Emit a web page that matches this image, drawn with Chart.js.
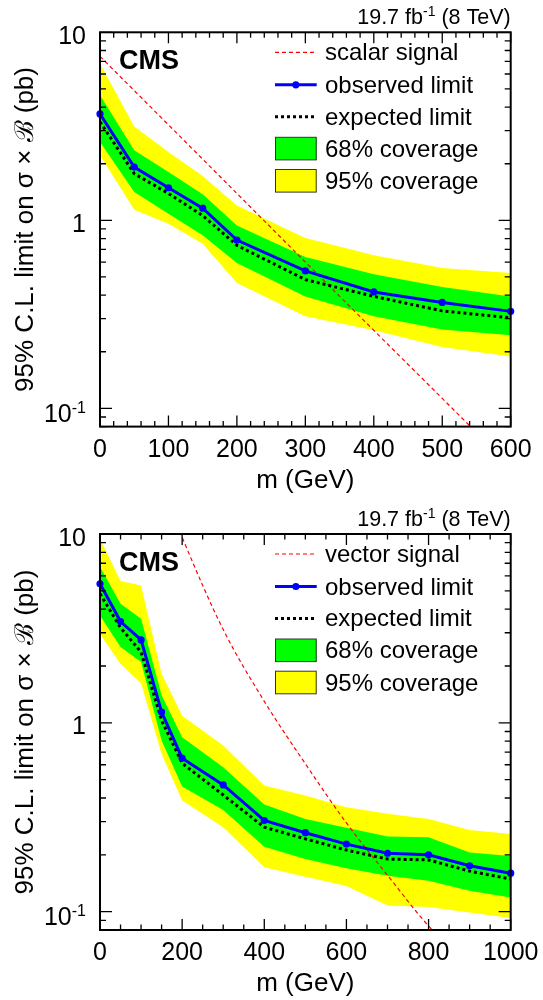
<!DOCTYPE html>
<html>
<head>
<meta charset="utf-8">
<script src="https://cdn.jsdelivr.net/npm/chart.js@4.4.1/dist/chart.umd.min.js"></script>
<style>
  html, body { margin: 0; padding: 0; background: #fff; }
  canvas { display: block; }
</style>
</head>
<body>
<canvas id="scalarChart" width="543" height="500"></canvas>
<canvas id="vectorChart" width="543" height="500"></canvas>
<script>
// scalar mediator (top panel)
const scalarMass = [0, 50, 100, 150, 200, 300, 400, 500, 600];
const scalarObserved = [3.68, 1.92, 1.49, 1.16, 0.786, 0.538, 0.416, 0.366, 0.328];
const scalarExpected = [3.34, 1.77, 1.39, 1.06, 0.736, 0.484, 0.394, 0.330, 0.303];
const scalar68Up = [4.62, 2.36, 1.81, 1.375, 0.94, 0.638, 0.516, 0.442, 0.394];
const scalar68Down = [2.61, 1.415, 1.085, 0.832, 0.593, 0.394, 0.309, 0.263, 0.245];
const scalar95Up = [6.81, 3.16, 2.31, 1.72, 1.20, 0.805, 0.652, 0.558, 0.525];
const scalar95Down = [2.22, 1.14, 0.96, 0.751, 0.464, 0.309, 0.260, 0.212, 0.189];
const scalarSignalMass = [0, 100, 200, 300, 400, 500, 600];
const scalarSignal = [7.45, 3.22, 1.39, 0.60, 0.26, 0.113, 0.049];
const scalarXTicks = [0, 100, 200, 300, 400, 500, 600];

// vector mediator (bottom panel)
const vectorMass = [0, 50, 100, 150, 200, 300, 400, 500, 600, 700, 800, 900, 1000];
const vectorObserved = [5.45, 3.44, 2.75, 1.14, 0.650, 0.469, 0.304, 0.262, 0.228, 0.204, 0.200, 0.175, 0.160];
const vectorExpected = [4.83, 3.19, 2.37, 1.03, 0.611, 0.415, 0.280, 0.243, 0.212, 0.190, 0.188, 0.164, 0.149];
const vector68Up = [6.70, 4.27, 3.56, 1.40, 0.839, 0.582, 0.369, 0.310, 0.278, 0.250, 0.248, 0.206, 0.197];
const vector68Down = [3.70, 2.52, 2.10, 0.806, 0.460, 0.346, 0.221, 0.190, 0.170, 0.155, 0.146, 0.129, 0.119];
const vector95Up = [9.4, 5.63, 5.34, 1.82, 1.09, 0.758, 0.466, 0.412, 0.357, 0.330, 0.310, 0.271, 0.258];
const vector95Down = [2.95, 2.05, 1.62, 0.685, 0.388, 0.280, 0.172, 0.153, 0.137, 0.108, 0.106, 0.099, 0.0925];
const vectorSignalMass = [150, 200, 300, 400, 500, 600, 700, 800, 900, 1000];
const vectorSignal = [18, 9.6, 3.12, 1.30, 0.607, 0.295, 0.156, 0.084, 0.051, 0.032];
const vectorXTicks = [0, 200, 400, 600, 800, 1000];

// shared log axis
const yTickValues = [0.1, 1, 10];
const yTickBase = ["10", "1", "10"];
const yTickExp = ["-1", "", ""];
const yMinorTicks = [0.08, 0.09, 0.2, 0.3, 0.4, 0.5, 0.6, 0.7, 0.8, 0.9, 2, 3, 4, 5, 6, 7, 8, 9];

const FONT = '"Liberation Sans", Arial, Helvetica, sans-serif';
const toPts = (xs, ys) => xs.map((x, i) => ({ x: x, y: ys[i] }));
const NONE = "rgba(0,0,0,0)";

const rootStyle = {
    id: "rootStyle",
    afterDraw(chart, args, o) {
        const { ctx, chartArea: a, scales } = chart;
        const xs = scales.x, ys = scales.y;
        const ds = chart.data.datasets;
        ctx.save();
        ctx.fillStyle = "#000";
        ctx.strokeStyle = "#000";

        // legend, ROOT style
        const rows = [20, 52.5, 84.4, 116.3, 148.5];
        const sx0 = 275, sx1 = 316.7;
        o.legend.forEach((e, i) => {
            const d = ds[e.ds];
            const ry = a.top + rows[i];
            ctx.save();
            if (e.kind === "box") {
                ctx.fillStyle = d.backgroundColor;
                ctx.fillRect(sx0, ry - 11.3, sx1 - sx0, 22.6);
                ctx.lineWidth = 1;
                ctx.strokeStyle = "#333";
                ctx.strokeRect(sx0 + 0.5, ry - 11.3, sx1 - sx0 - 1, 22.6);
            } else {
                ctx.strokeStyle = d.borderColor;
                ctx.lineWidth = d.borderWidth;
                ctx.setLineDash(d.borderDash || []);
                ctx.beginPath();
                ctx.moveTo(sx0, ry);
                ctx.lineTo(sx1, ry);
                ctx.stroke();
                if (d.pointRadius > 0) {
                    ctx.fillStyle = d.backgroundColor;
                    ctx.beginPath();
                    ctx.arc((sx0 + sx1) / 2, ry, d.pointRadius, 0, Math.PI * 2);
                    ctx.fill();
                }
            }
            ctx.restore();
            ctx.font = "24px " + FONT;
            ctx.textAlign = "left";
            ctx.textBaseline = "alphabetic";
            ctx.fillText(d.label, 325, ry + 8);
        });

        // frame
        ctx.lineWidth = 2;
        ctx.strokeRect(a.left, a.top, a.right - a.left, a.bottom - a.top);

        // ticks on all four sides
        ctx.lineWidth = 1.3;
        ctx.beginPath();
        for (let v = xs.min; v <= xs.max + 1e-6; v += o.xMinor) {
            const px = xs.getPixelForValue(v);
            const len = Math.abs(v % o.xMajor) < 1e-6 ? 11 : 5.5;
            ctx.moveTo(px, a.bottom); ctx.lineTo(px, a.bottom - len);
            ctx.moveTo(px, a.top); ctx.lineTo(px, a.top + len);
        }
        yTickValues.forEach(v => {
            const py = ys.getPixelForValue(v);
            ctx.moveTo(a.left, py); ctx.lineTo(a.left + 12, py);
            ctx.moveTo(a.right, py); ctx.lineTo(a.right - 12, py);
        });
        yMinorTicks.forEach(v => {
            const py = ys.getPixelForValue(v);
            ctx.moveTo(a.left, py); ctx.lineTo(a.left + 6, py);
            ctx.moveTo(a.right, py); ctx.lineTo(a.right - 6, py);
        });
        ctx.stroke();

        // y tick labels
        ctx.textBaseline = "alphabetic";
        ctx.textAlign = "left";
        yTickValues.forEach((v, i) => {
            const py = ys.getPixelForValue(v);
            ctx.font = "25px " + FONT;
            const wb = ctx.measureText(yTickBase[i]).width;
            ctx.font = "16px " + FONT;
            const we = yTickExp[i] ? ctx.measureText(yTickExp[i]).width : 0;
            const x0 = 86 - wb - we;
            const base = py + (yTickExp[i] ? 13.5 : 11.5);
            ctx.font = "25px " + FONT;
            ctx.fillText(yTickBase[i], x0, base);
            if (yTickExp[i]) {
                ctx.font = "16px " + FONT;
                ctx.fillText(yTickExp[i], x0 + wb, base - 9);
            }
        });

        // x tick labels
        ctx.font = "25px " + FONT;
        ctx.textAlign = "center";
        o.xTicks.forEach(v => {
            ctx.fillText(String(v), xs.getPixelForValue(v), a.bottom + 30);
        });

        // axis titles
        ctx.font = "26px " + FONT;
        ctx.fillText("m (GeV)", (a.left + a.right) / 2, a.bottom + 61);
        ctx.save();
        ctx.translate(33, (a.top + a.bottom) / 2);
        ctx.rotate(-Math.PI / 2);
        ctx.fillText("95% C.L. limit on \u03C3 \u00D7 \u212C (pb)", 0, 0);
        ctx.restore();

        // lumi header
        ctx.textAlign = "left";
        ctx.font = "21.5px " + FONT;
        const t1 = "19.7 fb", t3 = " (8 TeV)";
        const w1 = ctx.measureText(t1).width, w3 = ctx.measureText(t3).width;
        ctx.font = "14px " + FONT;
        const w2 = ctx.measureText("-1").width;
        const hx = a.right - w1 - w2 - w3;
        const hy = a.top - 8.5;
        ctx.font = "21.5px " + FONT;
        ctx.fillText(t1, hx, hy);
        ctx.font = "14px " + FONT;
        ctx.fillText("-1", hx + w1, hy - 7.5);
        ctx.font = "21.5px " + FONT;
        ctx.fillText(t3, hx + w1 + w2, hy);

        // CMS label
        ctx.font = "bold 27px " + FONT;
        ctx.fillText("CMS", 119, a.top + 37);

        ctx.restore();
    }
};

function limitChart(id, p) {
    return new Chart(document.getElementById(id), {
        type: "line",
        data: {
            datasets: [
                { label: "observed limit", data: toPts(p.mass, p.observed), borderColor: "#0000ff",
                  backgroundColor: "#0000ff", borderWidth: 3, pointRadius: 3.6, pointBorderWidth: 0,
                  fill: false, order: 0, clip: 8 },
                { label: "expected limit", data: toPts(p.mass, p.expected), borderColor: "#000",
                  borderWidth: 3, borderDash: [3, 3], pointRadius: 0, fill: false, order: 1 },
                { label: p.signalLabel, data: toPts(p.signalMass, p.signal), borderColor: "#ff0000",
                  borderWidth: 1.2, borderDash: [4, 3], pointRadius: 0, fill: false, order: 2, clip: 0,
                  cubicInterpolationMode: "monotone" },
                { label: "68% coverage", data: toPts(p.mass, p.up68), borderColor: NONE, borderWidth: 0,
                  backgroundColor: "#00ff00", pointRadius: 0, fill: 4, order: 3 },
                { label: "68% low", data: toPts(p.mass, p.down68), borderColor: NONE, borderWidth: 0,
                  pointRadius: 0, fill: false, order: 4 },
                { label: "95% coverage", data: toPts(p.mass, p.up95), borderColor: NONE, borderWidth: 0,
                  backgroundColor: "#ffff00", pointRadius: 0, fill: 6, order: 5 },
                { label: "95% low", data: toPts(p.mass, p.down95), borderColor: NONE, borderWidth: 0,
                  pointRadius: 0, fill: false, order: 6 }
            ]
        },
        options: {
            responsive: false,
            animation: false,
            layout: { padding: { left: 100, right: 32.3, top: p.padTop, bottom: p.padBottom } },
            elements: { line: { tension: 0 } },
            scales: {
                x: { type: "linear", min: 0, max: p.xMax, display: false },
                y: { type: "logarithmic", min: 0.08, max: 10, display: false }
            },
            plugins: {
                legend: { display: false },
                tooltip: { enabled: false },
                rootStyle: {
                    xMinor: p.xMinor,
                    xMajor: p.xMajor,
                    xTicks: p.xTicks,
                    legend: [
                        { ds: 2, kind: "line" },
                        { ds: 0, kind: "line" },
                        { ds: 1, kind: "line" },
                        { ds: 3, kind: "box" },
                        { ds: 5, kind: "box" }
                    ]
                }
            }
        },
        plugins: [rootStyle]
    });
}

limitChart("scalarChart", {
    mass: scalarMass, observed: scalarObserved, expected: scalarExpected,
    up68: scalar68Up, down68: scalar68Down, up95: scalar95Up, down95: scalar95Down,
    signalMass: scalarSignalMass, signal: scalarSignal, signalLabel: "scalar signal",
    xMax: 600, xMajor: 100, xMinor: 20, xTicks: scalarXTicks, padTop: 32.3, padBottom: 73.4
});

limitChart("vectorChart", {
    mass: vectorMass, observed: vectorObserved, expected: vectorExpected,
    up68: vector68Up, down68: vector68Down, up95: vector95Up, down95: vector95Down,
    signalMass: vectorSignalMass, signal: vectorSignal, signalLabel: "vector signal",
    xMax: 1000, xMajor: 200, xMinor: 50, xTicks: vectorXTicks, padTop: 34, padBottom: 70
});
</script>
</body>
</html>
